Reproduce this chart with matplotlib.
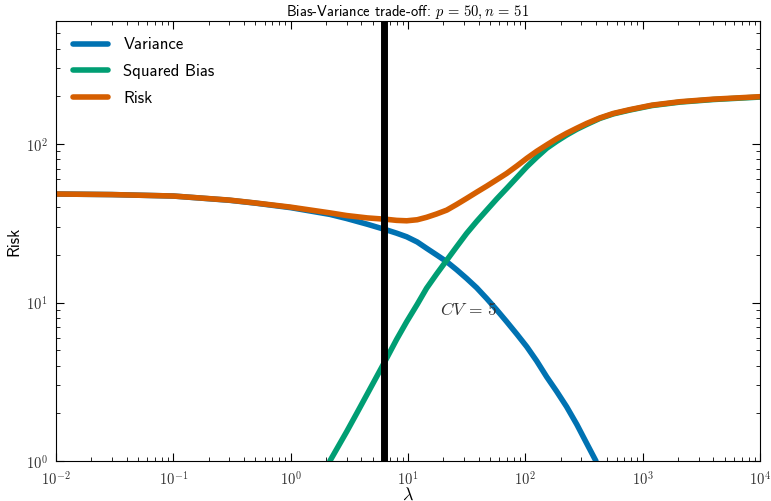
import numpy as np
import matplotlib
matplotlib.use("Agg")
import matplotlib.pyplot as plt
from matplotlib import ticker

plt.rcParams['font.family'] = 'cmss10'
plt.rcParams['mathtext.fontset'] = 'cm'
plt.rcParams['axes.unicode_minus'] = False

# values (log-log axes)
lam_var = [0.01, 0.03, 0.1, 0.3, 0.5, 1, 2.16, 3, 4.5, 6.58, 8, 9.75, 12, 14.4, 17.5, 21.4,
           26, 31.6, 38.5, 46.9, 57, 69.4, 85, 103, 125, 152, 185, 225, 275, 334, 400]
variance = [48.4, 48.0, 47.0, 44.2, 42.4, 39.7, 36.0, 33.9, 31.2, 28.7, 27.4, 26.0, 24.1, 22.0,
            20.0, 18.1, 16.1, 14.2, 12.4, 10.6, 9.0, 7.57, 6.3, 5.26, 4.28, 3.40, 2.75, 2.20,
            1.70, 1.29, 1.0]

lam_bias = [2.16, 3.0, 3.66, 4.5, 5.4, 6.58, 8, 9.75, 12, 14.4, 17.5, 21.4, 26, 31.6, 38.5,
            46.9, 57, 69.4, 85, 103, 125, 152, 185, 225, 275, 334, 430, 562, 780, 1200, 2080,
            4000, 10000]
sq_bias = [1.0, 1.53, 2.0, 2.65, 3.4, 4.45, 5.85, 7.57, 9.75, 12.3, 15.1, 18.5, 22.5, 27.3,
           32.5, 38.3, 45.0, 52.5, 61.7, 71.9, 82.5, 94.0, 104, 114, 124, 133, 145, 155, 164,
           175, 184, 191, 198]

lam_risk = [0.01, 0.03, 0.1, 0.3, 0.5, 1, 2.16, 3, 4.5, 6.58, 8, 9.75, 12, 14.4, 17.5, 21.4,
            26, 31.6, 38.5, 46.9, 57, 69.4, 85, 103, 125, 152, 185, 225, 275, 334, 430, 562,
            780, 1200, 2080, 4000, 10000]
risk = [48.4, 48.0, 47.0, 44.3, 42.5, 40.0, 36.8, 35.4, 34.2, 33.5, 33.0, 32.8, 33.3, 34.5,
        36.2, 38.3, 41.6, 45.4, 49.7, 54.3, 59.5, 65.3, 72.9, 81.3, 90.0, 98.7, 108, 117, 126,
        135, 146, 156, 165, 176, 185, 192, 199]

lam_cv = 6.2
cv_folds = 5

fig = plt.figure(figsize=(7.71, 5.01), dpi=100)
ax = fig.add_axes([0.0726, 0.0798, 0.9131, 0.8788])

ax.plot(lam_var, variance, color='#0072B2', lw=4, label='Variance', solid_capstyle='round')
ax.plot(lam_bias, sq_bias, color='#009E73', lw=4, label='Squared Bias', solid_capstyle='round')
ax.plot(lam_risk, risk, color='#D55E00', lw=4, label='Risk', solid_capstyle='round')
ax.axvline(lam_cv, color='k', lw=5)
ax.text(18.8, 9.1, r'$CV\,=\,%d$' % cv_folds, fontsize=12.5, ha='left', va='center',
        color='#333333', zorder=5)

ax.set_xscale('log')
ax.set_yscale('log')
ax.set_xlim(1e-2, 1e4)
ax.set_ylim(1, 600)

fmt = ticker.FuncFormatter(lambda v, p: r'$10^{%d}$' % round(np.log10(v)))
ax.xaxis.set_major_formatter(fmt)
ax.yaxis.set_major_formatter(fmt)
ax.tick_params(which='both', direction='in', top=True, right=True, labelsize=10.5, labelcolor='#333333')
ax.tick_params(which='major', length=6, pad=6)
ax.tick_params(which='minor', length=3)

ax.set_xlabel(r'$\lambda$', fontsize=13, va='center')
ax.xaxis.set_label_coords(0.5, -0.075)
ax.set_ylabel('Risk', fontsize=12, va='center')
ax.yaxis.set_label_coords(-0.06, 0.5)
ax.set_title(r'Bias-Variance trade-off: $p\,=\,50, n\,=\,51$', fontsize=10.5, pad=3)

ax.legend(loc='upper left', frameon=False, fontsize=12, handlelength=2.15, handletextpad=0.9,
          borderaxespad=0.6, labelspacing=0.7)

fig.savefig('out.png', dpi=100)
